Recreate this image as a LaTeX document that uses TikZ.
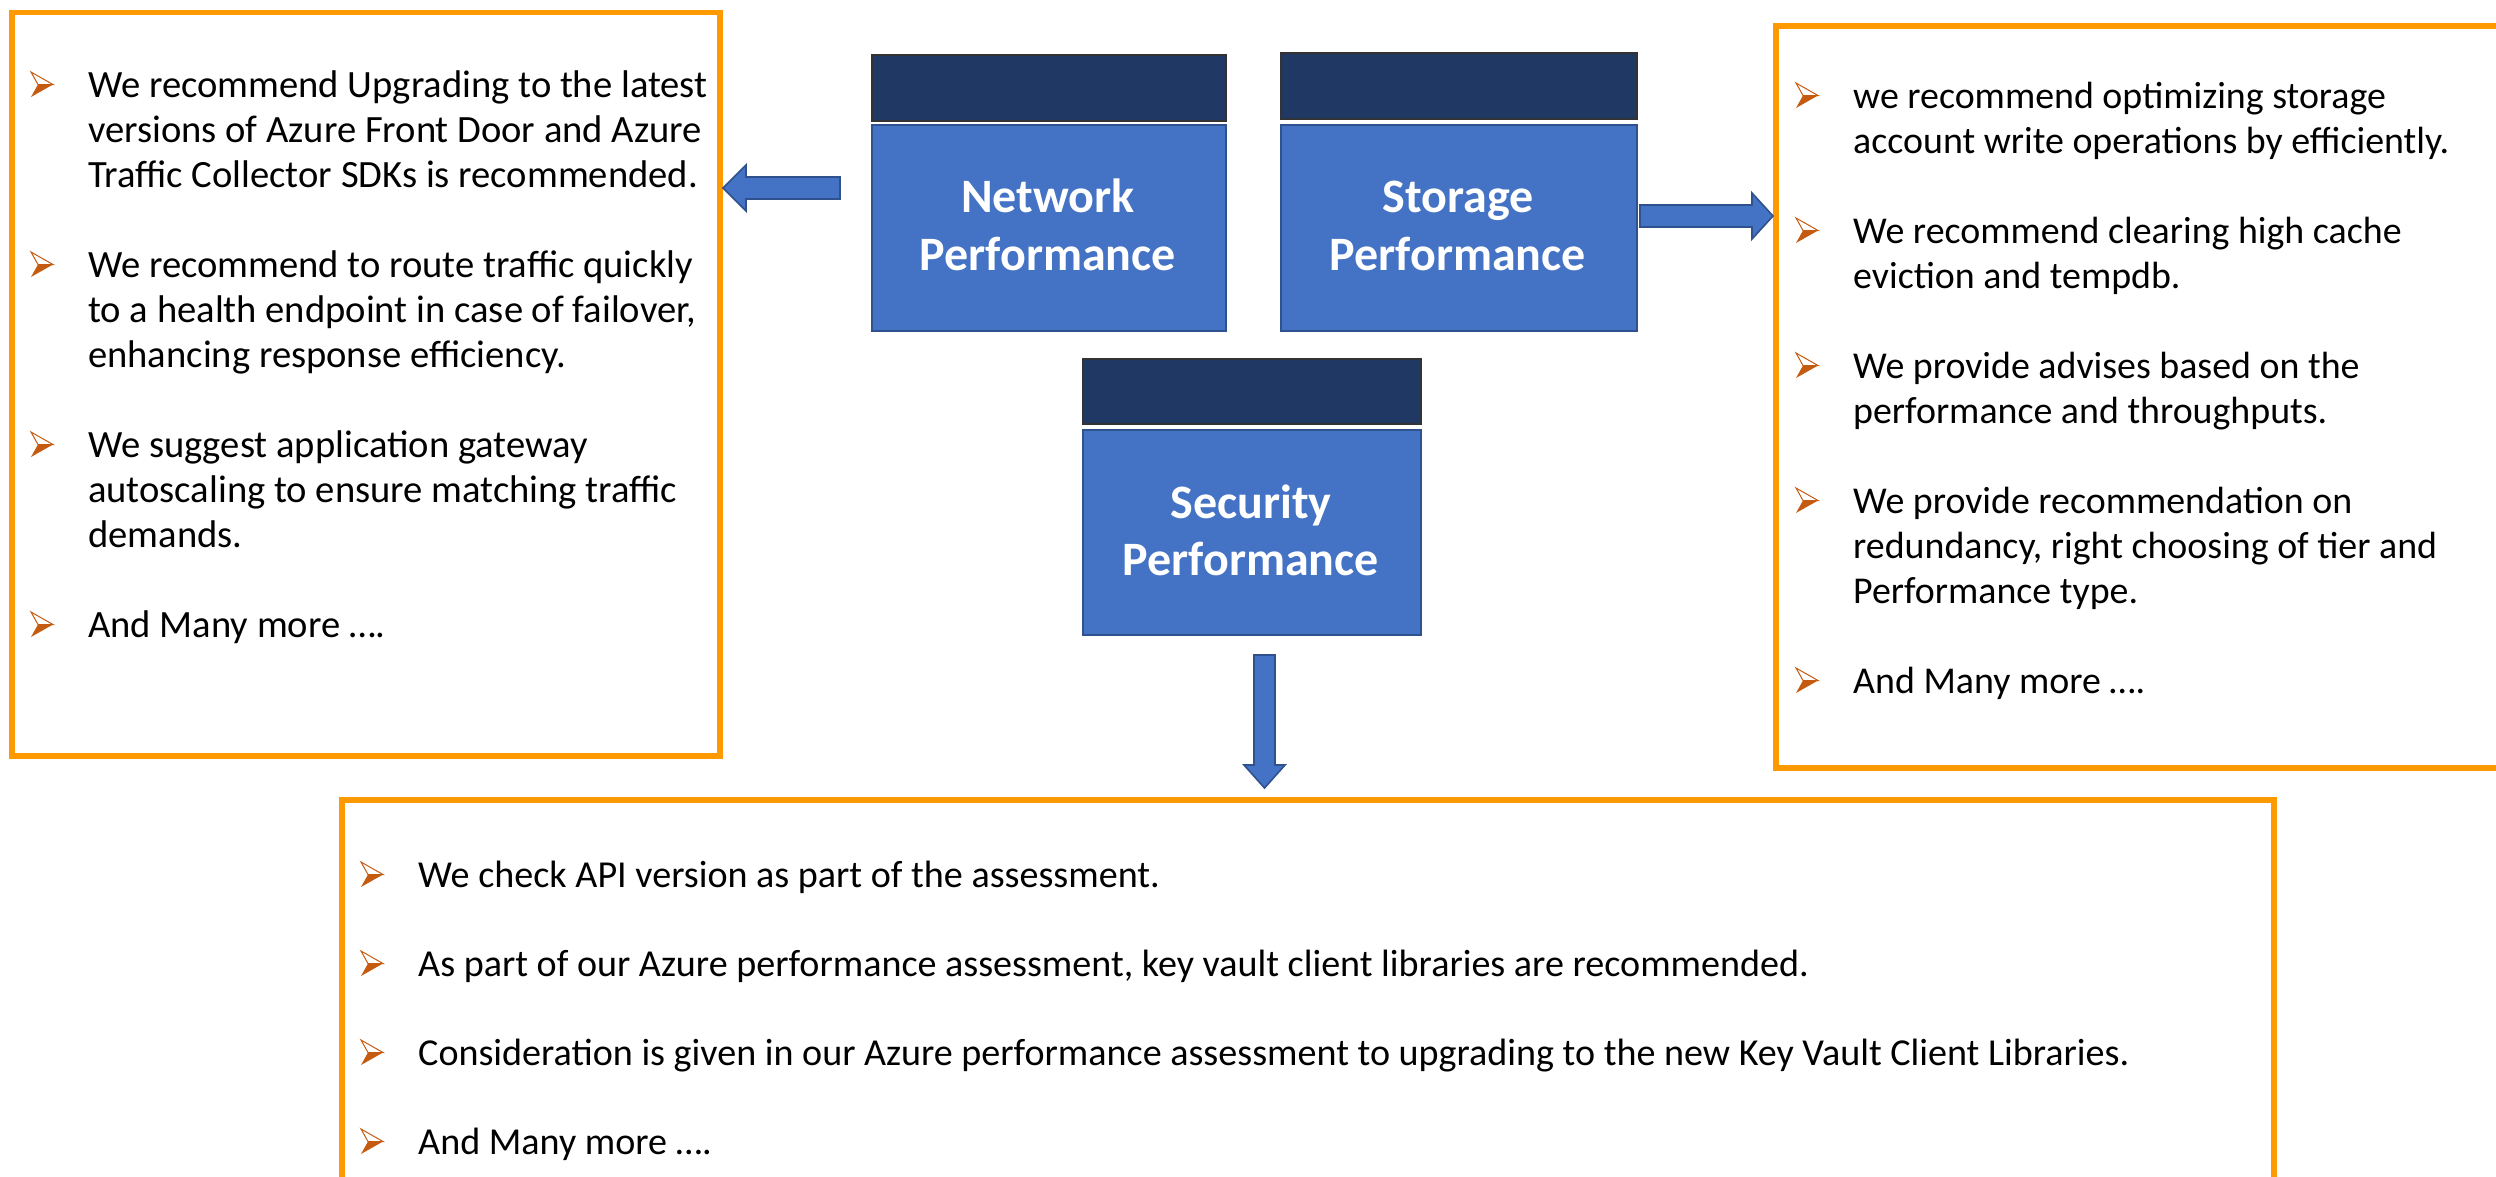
\documentclass[tikz,border=0pt]{standalone}
\usepackage{fontspec}
\setmainfont{Carlito}
\definecolor{orng}{RGB}{255,153,0}
\definecolor{bulc}{RGB}{197,90,17}
\definecolor{hdr}{RGB}{32,56,100}
\definecolor{bodyc}{RGB}{68,114,196}
\definecolor{bodyline}{RGB}{47,82,143}
\newcommand{\TxtLine}[5][38]{\node[txt, font=\fontsize{#1}{45}\selectfont] (#2) at (#3,#4) {#5};}
\begin{document}
\begin{tikzpicture}[x=1pt,y=-1pt,
  obox/.style={draw=orng, line width=5.5pt, rectangle, anchor=north west, inner sep=0},
  hbox/.style={draw=black!80, fill=hdr, line width=2pt, rectangle, anchor=north west, inner sep=0},
  bbox/.style={draw=bodyline, fill=bodyc, line width=2pt, rectangle, anchor=north west, inner sep=0},
  barrow/.style={draw=bodyline, fill=bodyc, line width=1.6pt, line join=miter},
  txt/.style={anchor=base west, inner sep=0},
  ttl/.style={anchor=base, inner sep=0, text=white, font=\fontsize{48}{58}\selectfont\bfseries},
  bul/.pic={
    \fill[bulc] (7,-12.5) -- (22,-12.5) -- (0,0) -- cycle;
    \filldraw[draw=bulc, fill=white, line width=1pt, line join=miter] (0,-25) -- (22,-12.5) -- (7,-12.5) -- cycle;
  }]
\useasboundingbox (0,0) rectangle (2496,1176);

% orange text boxes
\node[obox, minimum width=708pt, minimum height=743.5pt] (lbox) at (9,9.5) {};
\node[obox, minimum width=737pt, minimum height=742pt] (rbox) at (1773,23) {};
\node[obox, minimum width=1932pt, minimum height=400pt] (bbox) at (339,797) {};

% blue performance boxes
\node[hbox, minimum width=354pt, minimum height=66pt] (neth) at (871,54) {};
\node[bbox, minimum width=354pt, minimum height=206pt] (netb) at (871,124) {};
\node[hbox, minimum width=356pt, minimum height=66pt] (stoh) at (1280,52) {};
\node[bbox, minimum width=356pt, minimum height=206pt] (stob) at (1280,124) {};
\node[hbox, minimum width=338pt, minimum height=65pt] (sech) at (1082,358) {};
\node[bbox, minimum width=338pt, minimum height=205pt] (secb) at (1082,429) {};

\node[ttl] (netT1) at (1048,212) {Network};
\node[ttl] (netT2) at (1048,270) {Performance};
\node[ttl] (stoT1) at (1458,212) {Storage};
\node[ttl] (stoT2) at (1458,270) {Performance};
\node[ttl] (secT1) at (1251,518) {Security};
\node[ttl] (secT2) at (1251,575) {Performance};

% block arrows
\draw[barrow] (840,177) -- (746,177) -- (746,165) -- (723,188) -- (746,211) -- (746,199) -- (840,199) -- cycle;
\draw[barrow] (1640,205) -- (1752,205) -- (1752,193) -- (1773,216) -- (1752,239) -- (1752,227) -- (1640,227) -- cycle;
\draw[barrow] (1254,655) -- (1275,655) -- (1275,765) -- (1285,765) -- (1264.5,788) -- (1244,765) -- (1254,765) -- cycle;

% left box
\pic at (31,97) {bul};
\TxtLine[38.6]{l1a}{88}{97}{We recommend Upgrading to the latest}
\TxtLine[38.6]{l1b}{88}{142}{versions of Azure Front Door and Azure}
\TxtLine[38.6]{l1c}{88}{187}{Traffic Collector SDKs is recommended.}
\pic at (31,277) {bul};
\TxtLine[38.6]{l2a}{88}{277}{We recommend to route traffic quickly}
\TxtLine[38.6]{l2b}{88}{322}{to a health endpoint in case of failover,}
\TxtLine[38.6]{l2c}{88}{367}{enhancing response efficiency.}
\pic at (31,457) {bul};
\TxtLine[38.6]{l3a}{88}{457}{We suggest application gateway}
\TxtLine[38.6]{l3b}{88}{502}{autoscaling to ensure matching traffic}
\TxtLine[38.6]{l3c}{88}{547}{demands.}
\pic at (31,637) {bul};
\TxtLine[38.6]{l4a}{88}{637}{And Many more ….}

% right box
\pic at (1796,108) {bul};
\TxtLine[37.9]{r1a}{1853}{108}{we recommend optimizing storage}
\TxtLine[37.9]{r1b}{1853}{153}{account write operations by efficiently.}
\pic at (1796,243) {bul};
\TxtLine[37.9]{r2a}{1853}{243}{We recommend clearing high cache}
\TxtLine[37.9]{r2b}{1853}{288}{eviction and tempdb.}
\pic at (1796,378) {bul};
\TxtLine[37.9]{r3a}{1853}{378}{We provide advises based on the}
\TxtLine[37.9]{r3b}{1853}{423}{performance and throughputs.}
\pic at (1796,513) {bul};
\TxtLine[37.9]{r4a}{1853}{513}{We provide recommendation on}
\TxtLine[37.9]{r4b}{1853}{558}{redundancy, right choosing of tier and}
\TxtLine[37.9]{r4c}{1853}{603}{Performance type.}
\pic at (1796,693) {bul};
\TxtLine[37.9]{r5a}{1853}{693}{And Many more ….}

% bottom box
\pic at (361,887) {bul};
\TxtLine[38.1]{b1}{418}{887}{We check API version as part of the assessment.}
\pic at (361,976) {bul};
\TxtLine[38.1]{b2}{418}{976}{As part of our Azure performance assessment, key vault client libraries are recommended.}
\pic at (361,1065) {bul};
\TxtLine[38.1]{b3}{418}{1065}{Consideration is given in our Azure performance assessment to upgrading to the new Key Vault Client Libraries.}
\pic at (361,1154) {bul};
\TxtLine[38.1]{b4}{418}{1154}{And Many more ….}
\end{tikzpicture}
\end{document}
